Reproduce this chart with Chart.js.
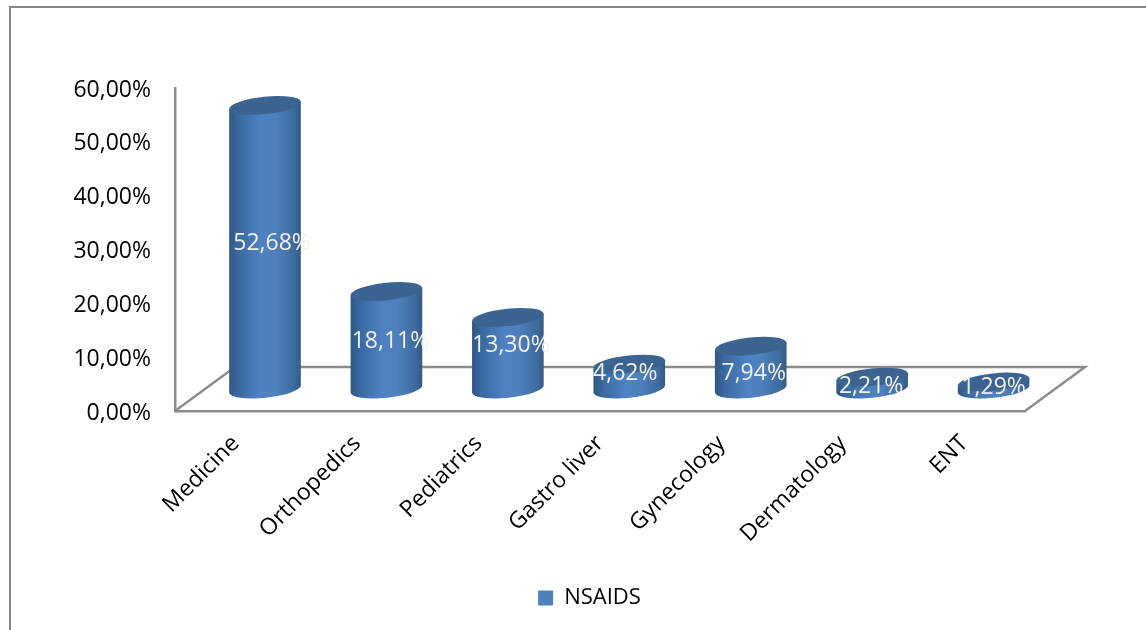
<!DOCTYPE html>
<html>
<head>
<meta charset="utf-8">
<style>
html, body { margin: 0; background: #fff; overflow: hidden; }
#frame { position: absolute; left: 9px; top: 6px; width: 1137px; height: 624px; border-top: 2px solid #868686; border-left: 2px solid #868686; box-sizing: border-box; }
#wrap { position: absolute; left: 0; top: 0; width: 1146px; height: 630px; }
</style>
</head>
<body>
<div id="frame"></div>
<div id="wrap"><canvas id="myChart" width="1146" height="630"></canvas></div>
<script src="https://cdn.jsdelivr.net/npm/chart.js@4"></script>
<script>
var categories = ['Medicine', 'Orthopedics', 'Pediatrics', 'Gastro liver', 'Gynecology', 'Dermatology', 'ENT'];
var nsaids = [52.68, 18.11, 13.30, 4.62, 7.94, 2.21, 1.29];
var valueLabels = ['52,68%', '18,11%', '13,30%', '4,62%', '7,94%', '2,21%', '1,29%'];
var yTickLabels = ['0,00%', '10,00%', '20,00%', '30,00%', '40,00%', '50,00%', '60,00%'];

var font = '"Open Sans", sans-serif';
var depthX = 60, depthY = 44;   // floor depth of the fake 3d box
var capRy = 8.7, tilt = 6 * Math.PI / 180;
var labelNudgeX = [7, 4, 3, -4, 3, -1, 0];
var labelNudgeY = [-4, 1, -8, -3, 6, 3, 2];

function bodyGradient(ctx, left, right) {
    var g = ctx.createLinearGradient(left, 0, right, 0);
    g.addColorStop(0, '#2f5684');
    g.addColorStop(0.15, '#3c6ba3');
    g.addColorStop(0.45, '#4f82c4');
    g.addColorStop(0.65, '#4e80bd');
    g.addColorStop(0.9, '#3f6c9f');
    g.addColorStop(1, '#345a87');
    return g;
}

var floorPlugin = {
    id: 'floor',
    beforeDatasetsDraw: function (chart) {
        var ctx = chart.ctx, a = chart.chartArea;
        ctx.save();
        ctx.strokeStyle = '#8c8c8c';
        ctx.lineWidth = 2.5;
        ctx.beginPath();
        ctx.moveTo(a.left, a.bottom);
        ctx.lineTo(a.left + depthX, a.bottom - depthY);
        ctx.lineTo(a.right + depthX, a.bottom - depthY);
        ctx.lineTo(a.right, a.bottom);
        ctx.stroke();
        ctx.restore();
    }
};

var cylinderPlugin = {
    id: 'cylinder',
    beforeDatasetDraw: function (chart, args) {
        var ctx = chart.ctx;
        var meta = args.meta;
        meta.data.forEach(function (bar, i) {
            var cx = bar.x + depthX / 2 - 0.7;
            var top = bar.y - depthY / 2;
            var base = bar.base - depthY / 2;
            var rx = bar.width / 2;
            var dx = rx * Math.cos(tilt), dy = rx * Math.sin(tilt);
            ctx.save();
            ctx.fillStyle = bodyGradient(ctx, cx - rx, cx + rx);
            ctx.beginPath();
            ctx.moveTo(cx + dx, top - dy);
            ctx.lineTo(cx + dx, base - dy);
            ctx.ellipse(cx, base, rx, capRy, -tilt, 0, Math.PI);
            ctx.lineTo(cx - dx, top + dy);
            ctx.closePath();
            ctx.fill();
            ctx.fillStyle = '#3b6491';
            ctx.beginPath();
            ctx.ellipse(cx, top, rx, capRy, -tilt, 0, Math.PI * 2);
            ctx.fill();
            ctx.restore();
        });
        // drawn by hand above, skip the flat rectangles
        return false;
    },
    afterDatasetsDraw: function (chart) {
        var ctx = chart.ctx;
        var meta = chart.getDatasetMeta(0);
        ctx.save();
        ctx.font = '23px ' + font;
        ctx.fillStyle = '#f1f1ea';
        ctx.textAlign = 'center';
        ctx.textBaseline = 'middle';
        meta.data.forEach(function (bar, i) {
            var cx = bar.x + depthX / 2 - 0.7;
            var mid = (bar.y + bar.base) / 2 - depthY / 2;
            ctx.fillText(valueLabels[i], cx + labelNudgeX[i], mid + labelNudgeY[i]);
        });
        ctx.restore();
    },
    afterLayout: function (chart) {
        // legend sits off centre in the original
        chart.legend.left = 0;
        chart.legend.right = 1179;
        chart.legend.width = 1179;
        chart.legend.top = 580;
    }
};

var ctx = document.getElementById('myChart').getContext('2d');
var chart = new Chart(ctx, {
    type: 'bar',
    data: {
        labels: categories,
        datasets: [{
            label: 'NSAIDS',
            data: nsaids,
            backgroundColor: '#4f81bd',
            borderWidth: 0,
            barPercentage: 0.593,
            categoryPercentage: 1
        }]
    },
    options: {
        responsive: false,
        animation: false,
        layout: { padding: { left: 0, right: 121, top: 88, bottom: 0 } },
        plugins: {
            tooltip: { enabled: false },
            legend: {
                position: 'bottom',
                labels: {
                    color: '#000',
                    font: { family: font, size: 22 },
                    boxWidth: 15,
                    boxHeight: 15,
                    padding: 7
                }
            }
        },
        scales: {
            x: {
                afterFit: function (s) { s.height = 180; },
                grid: { display: false, drawTicks: false },
                border: { display: true, color: '#8c8c8c', width: 2.5 },
                ticks: {
                    color: '#000',
                    font: { family: font, size: 23 },
                    maxRotation: 45,
                    minRotation: 45,
                    autoSkip: false,
                    padding: 19
                }
            },
            y: {
                min: 0,
                max: 60,
                afterFit: function (s) { s.width = 175; },
                grid: { display: false, drawTicks: false },
                border: { display: true, color: '#8c8c8c', width: 2.5 },
                ticks: {
                    color: '#000',
                    font: { family: font, size: 23 },
                    stepSize: 10,
                    padding: 24,
                    labelOffset: 2,
                    callback: function (v, i) { return yTickLabels[i]; }
                }
            }
        }
    },
    plugins: [floorPlugin, cylinderPlugin]
});
</script>
</body>
</html>
